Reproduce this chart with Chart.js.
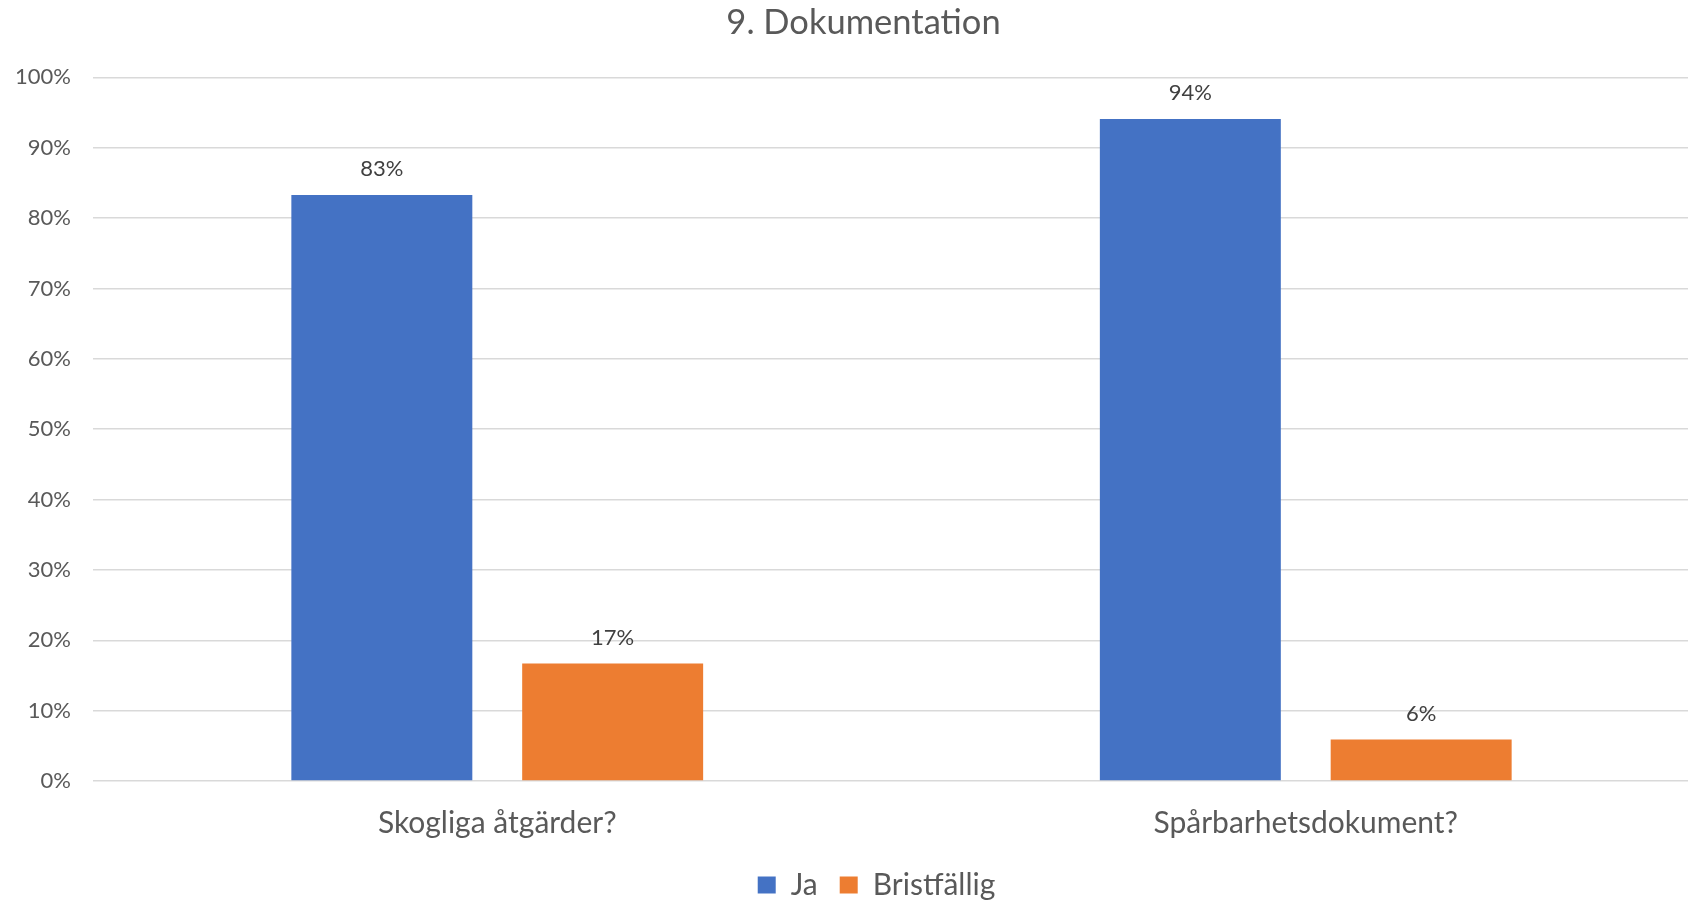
<!DOCTYPE html>
<html>
<head>
<meta charset="utf-8">
<script src="https://cdn.jsdelivr.net/npm/chart.js@4"></script>
<style>
  html, body { margin: 0; padding: 0; background: #fff; overflow: hidden; }
  #wrap { width: 1736px; height: 901px; }
</style>
</head>
<body>
<div id="wrap"><canvas id="chart" width="1736" height="901"></canvas></div>
<script>
// Chart data
const categories = ['Skogliga åtgärder?', 'Spårbarhetsdokument?'];
const jaValues = [83.3, 94.1];
const bristValues = [16.7, 5.9];
const seriesNames = ['Ja', 'Bristfällig'];
const yTicks = [0, 10, 20, 30, 40, 50, 60, 70, 80, 90, 100];

const FONT = 'Lato, "Open Sans", sans-serif';

// value labels above each bar
const barLabels = {
    id: 'barLabels',
    afterDatasetsDraw(chart) {
        const ctx = chart.ctx;
        ctx.save();
        ctx.font = '22px ' + FONT;
        ctx.fillStyle = '#404040';
        ctx.textAlign = 'center';
        ctx.textBaseline = 'middle';
        chart.data.datasets.forEach((ds, i) => {
            chart.getDatasetMeta(i).data.forEach((bar, j) => {
                ctx.fillText(Math.round(ds.data[j]) + '%', bar.x, bar.y - 26);
            });
        });
        ctx.restore();
    }
};

// nudge the legend a bit to the right, like in the original
const legendShift = {
    id: 'legendShift',
    afterLayout(chart) {
        chart.legend.left += 13;
        chart.legend.right += 13;
    }
};

new Chart(document.getElementById('chart'), {
    type: 'bar',
    data: {
        labels: categories,
        datasets: [{
            label: seriesNames[0],
            data: jaValues,
            backgroundColor: '#4472C4'
        }, {
            label: seriesNames[1],
            data: bristValues,
            backgroundColor: '#ED7D31'
        }]
    },
    options: {
        responsive: false,
        devicePixelRatio: 1,
        animation: false,
        categoryPercentage: 0.571,
        barPercentage: 0.784,
        layout: {
            padding: { left: 17, right: 26, top: 0, bottom: -9 }
        },
        plugins: {
            title: {
                display: true,
                text: '9. Dokumentation',
                color: '#595959',
                font: { family: FONT, size: 34.5, weight: 'normal' },
                padding: { top: 2, bottom: 34 }
            },
            legend: {
                position: 'bottom',
                labels: {
                    color: '#595959',
                    font: { family: FONT, size: 30 },
                    boxWidth: 18,
                    boxHeight: 17,
                    padding: 10 + 12
                }
            },
            tooltip: { enabled: false }
        },
        scales: {
            x: {
                grid: { display: false },
                border: { display: false },
                ticks: {
                    color: '#595959',
                    font: { family: FONT, size: 30 },
                    padding: 16
                },
                afterFit: (axis) => { axis.height = 79 - 12; }
            },
            y: {
                min: 0,
                max: 100,
                afterBuildTicks: (axis) => {
                    axis.ticks = yTicks.map(v => ({ value: v }));
                },
                grid: { color: '#d9d9d9', lineWidth: 1.5, drawTicks: false },
                border: { display: false },
                ticks: {
                    color: '#595959',
                    font: { family: FONT, size: 22 },
                    padding: 22,
                    callback: (v) => v + '%'
                },
                afterFit: (axis) => { axis.width = 76; }
            }
        }
    },
    plugins: [barLabels, legendShift]
});
</script>
</body>
</html>
